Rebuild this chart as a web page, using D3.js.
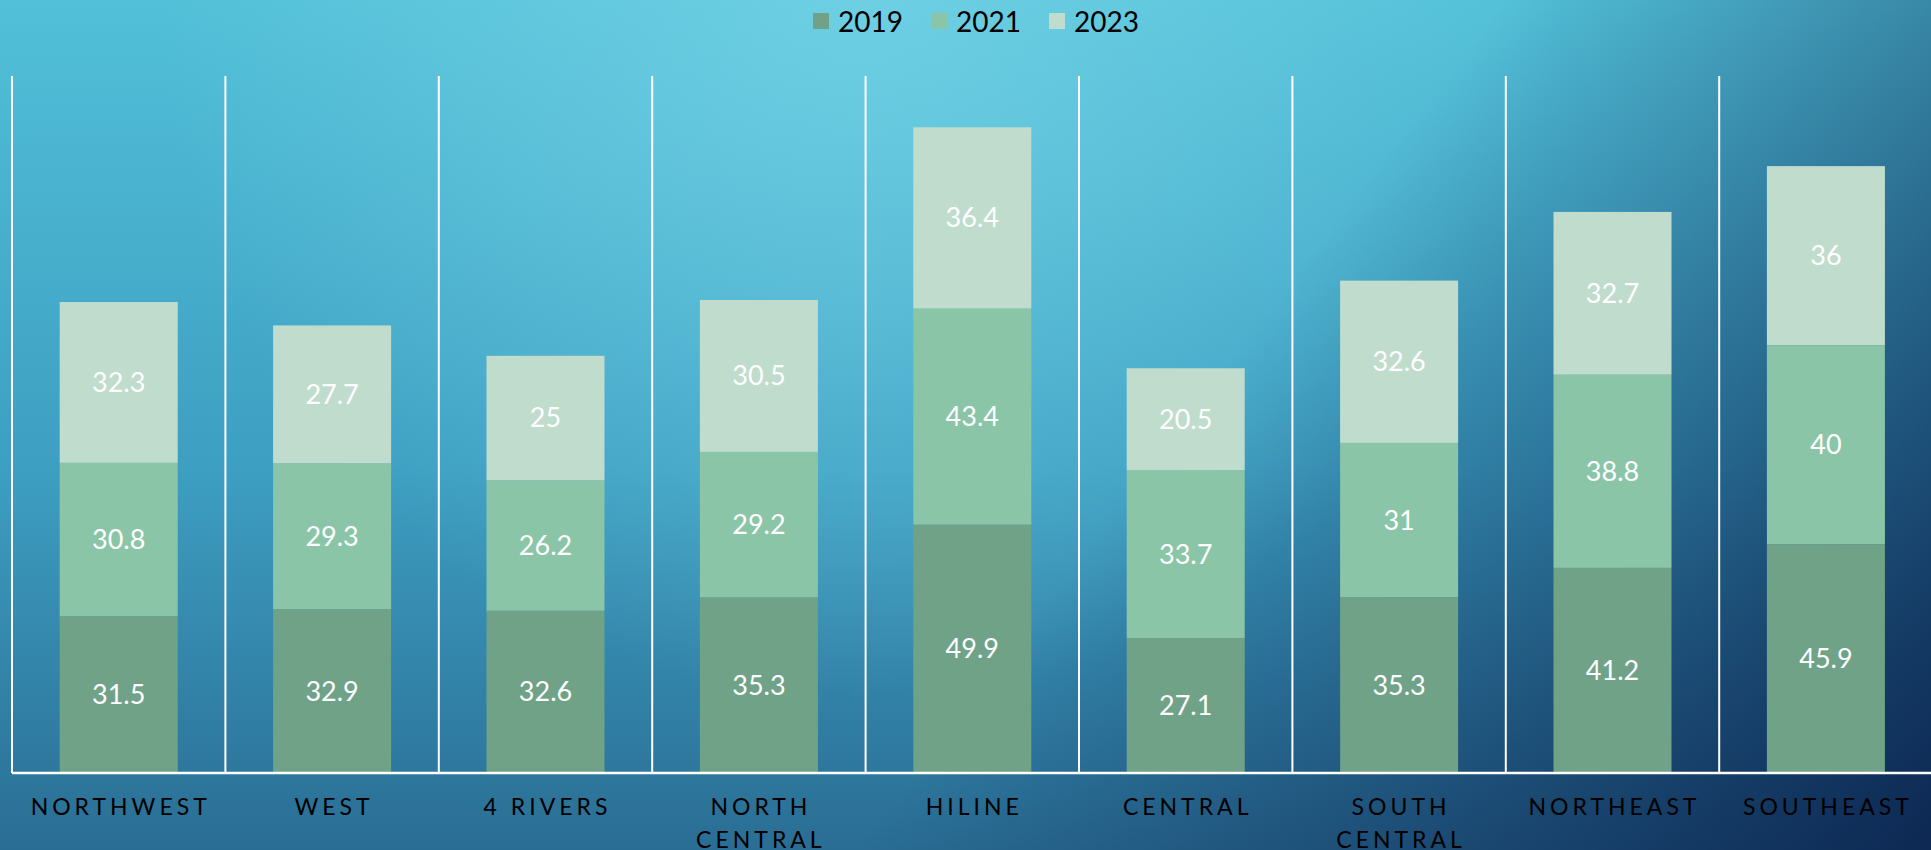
<!DOCTYPE html>
<html>
<head>
<meta charset="utf-8">
<script src="https://cdn.jsdelivr.net/npm/d3@7"></script>
<style>
  html, body { margin: 0; padding: 0; overflow: hidden; }
  body { width: 1931px; height: 850px; font-family: Lato, "Noto Sans", sans-serif; }
</style>
</head>
<body>
<div id="chart"></div>
<script>
// data
var regions = ["NORTHWEST", "WEST", "4 RIVERS", "NORTH CENTRAL", "HILINE", "CENTRAL", "SOUTH CENTRAL", "NORTHEAST", "SOUTHEAST"];
var years = ["2019", "2021", "2023"];
var v2019 = [31.5, 32.9, 32.6, 35.3, 49.9, 27.1, 35.3, 41.2, 45.9];
var v2021 = [30.8, 29.3, 26.2, 29.2, 43.4, 33.7, 31, 38.8, 40];
var v2023 = [32.3, 27.7, 25, 30.5, 36.4, 20.5, 32.6, 32.7, 36];
var colors = ["#70a288", "#8bc5a7", "#c0dccd"];

var W = 1931, H = 850;
var margin = {top: 76, left: 12, bottom: 77};
var plotH = H - margin.top - margin.bottom;

var svg = d3.select("#chart").append("svg")
    .attr("width", W)
    .attr("height", H);

// background
var defs = svg.append("defs");
var base = defs.append("linearGradient").attr("id", "base")
    .attr("x1", 0).attr("y1", 0).attr("x2", 0).attr("y2", 1);
base.append("stop").attr("offset", "0%").attr("stop-color", "#52c0d8");
base.append("stop").attr("offset", "55%").attr("stop-color", "#3d9fc2");
base.append("stop").attr("offset", "100%").attr("stop-color", "#2a6d94");

var dark = defs.append("linearGradient").attr("id", "dark")
    .attr("gradientUnits", "userSpaceOnUse")
    .attr("x1", 1250).attr("y1", 330).attr("x2", 1931).attr("y2", 850);
dark.append("stop").attr("offset", "0%").attr("stop-color", "#0b2550").attr("stop-opacity", 0);
dark.append("stop").attr("offset", "50%").attr("stop-color", "#0b2550").attr("stop-opacity", 0.45);
dark.append("stop").attr("offset", "100%").attr("stop-color", "#0b2550").attr("stop-opacity", 0.95);

var glow = defs.append("radialGradient").attr("id", "glow")
    .attr("gradientUnits", "userSpaceOnUse")
    .attr("cx", 860).attr("cy", 0).attr("r", 700);
glow.append("stop").attr("offset", "0%").attr("stop-color", "#7ad6e8").attr("stop-opacity", 0.7);
glow.append("stop").attr("offset", "100%").attr("stop-color", "#7ad6e8").attr("stop-opacity", 0);

svg.append("rect").attr("width", W).attr("height", H).attr("fill", "url(#base)");
svg.append("rect").attr("width", W).attr("height", H).attr("fill", "url(#glow)");
svg.append("rect").attr("width", W).attr("height", H).attr("fill", "url(#dark)");

// scales
var x = d3.scaleBand()
    .domain(regions)
    .range([margin.left, margin.left + 9 * 213.4])
    .padding(0);

var y = d3.scaleLinear()
    .domain([0, 140])
    .range([margin.top + plotH, margin.top]);

var barW = x.bandwidth() * 0.553;

// stack
var table = regions.map(function(r, i) {
    return {region: r, "2019": v2019[i], "2021": v2021[i], "2023": v2023[i]};
});
var series = d3.stack().keys(years)(table);

// vertical separators
var seps = regions.map(function(r) { return x(r); }).concat([x(regions[8]) + x.bandwidth()]);
svg.selectAll(".sep")
    .data(seps)
    .enter().append("line")
    .attr("x1", function(d) { return d; })
    .attr("x2", function(d) { return d; })
    .attr("y1", y(140))
    .attr("y2", y(0))
    .attr("stroke", "#ffffff")
    .attr("stroke-width", 2);

// bars
var groups = svg.selectAll(".series")
    .data(series)
    .enter().append("g")
    .attr("fill", function(d, i) { return colors[i]; });

groups.selectAll("rect")
    .data(function(d) { return d; })
    .enter().append("rect")
    .attr("x", function(d) { return x(d.data.region) + (x.bandwidth() - barW) / 2; })
    .attr("y", function(d) { return y(d[1]); })
    .attr("width", barW)
    .attr("height", function(d) { return y(d[0]) - y(d[1]); });

// value labels
groups.selectAll("text")
    .data(function(d) { return d; })
    .enter().append("text")
    .attr("x", function(d) { return x(d.data.region) + x.bandwidth() / 2; })
    .attr("y", function(d) { return y((d[0] + d[1]) / 2); })
    .attr("dy", "0.35em")
    .attr("text-anchor", "middle")
    .attr("fill", "#ffffff")
    .style("font-size", "27px")
    .text(function(d) { return d[1] - d[0] > 0 ? +(d[1] - d[0]).toFixed(1) : ""; });

// baseline
svg.append("line")
    .attr("x1", margin.left)
    .attr("x2", W)
    .attr("y1", y(0))
    .attr("y2", y(0))
    .attr("stroke", "#ffffff")
    .attr("stroke-width", 2.5);

// category labels, wrapped when too wide for the band
var labels = svg.selectAll(".cat")
    .data(regions)
    .enter().append("text")
    .attr("text-anchor", "middle")
    .attr("fill", "#000000")
    .style("font-size", "23px")
    .style("letter-spacing", "4px")
    .attr("x", function(d) { return x(d) + x.bandwidth() / 2 + 2; })
    .attr("y", y(0) + 42);

labels.each(function(d) {
    var t = d3.select(this);
    t.text(d);
    if (this.getComputedTextLength() > x.bandwidth() - 10) {
        t.text(null);
        d.split(" ").forEach(function(w, i) {
            t.append("tspan")
                .attr("x", x(d) + x.bandwidth() / 2 + 2)
                .attr("dy", i === 0 ? 0 : 33)
                .text(w);
        });
    }
});

// legend
var legX = 813;
var leg = svg.append("g").attr("transform", "translate(" + legX + ",0)");
var legOffsets = [0, 118, 236];
years.forEach(function(yr, i) {
    var g = leg.append("g").attr("transform", "translate(" + legOffsets[i] + ",0)");
    g.append("rect")
        .attr("x", 0).attr("y", 13)
        .attr("width", 16).attr("height", 16)
        .attr("fill", colors[i]);
    g.append("text")
        .attr("x", 25).attr("y", 22)
        .attr("dy", "0.36em")
        .attr("fill", "#000000")
        .style("font-size", "28px")
        .text(yr);
});
</script>
</body>
</html>
